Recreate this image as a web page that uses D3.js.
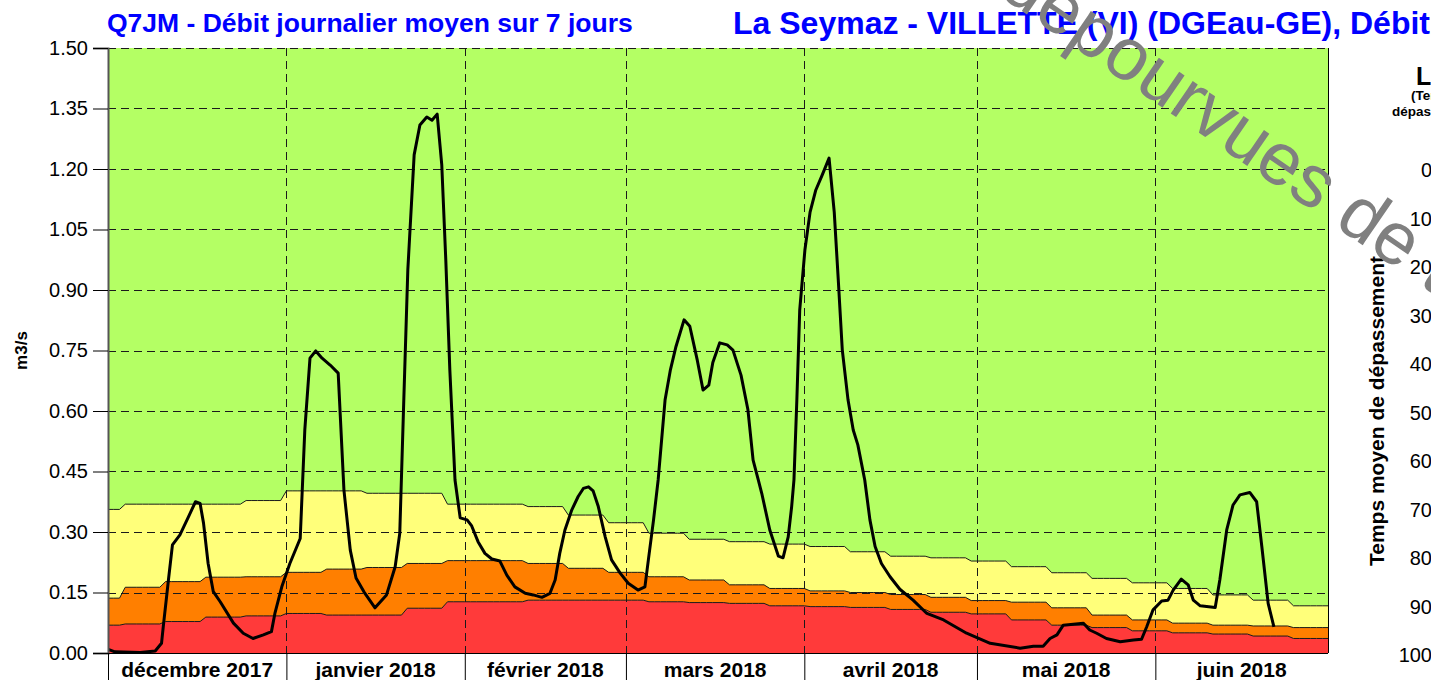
<!DOCTYPE html>
<html>
<head>
<meta charset="utf-8">
<script src="https://cdn.jsdelivr.net/npm/d3@7"></script>
<style>
  html, body { margin: 0; padding: 0; background: #fff; overflow: hidden; }
  svg { display: block; font-family: "Liberation Sans", Arial, sans-serif; }
</style>
</head>
<body>
<svg id="chart" width="1431" height="680"></svg>
<script>
// Q7JM series: day offset from 1 Dec 2017 and 7-day mean flow (m3/s)
const flowDay = [
  0.05, 1.2, 5.6, 8.2, 9.3, 9.6, 10.5, 11.2, 12.5, 14.0, 15.2, 16.0, 16.6, 17.4, 18.3, 19.5,
  21.8, 23.5, 25.2, 27.0, 28.4, 29.0, 30.2, 31.6, 33.4, 34.2, 35.1, 36.1, 37.2, 38.6, 40.0,
  41.0, 42.1, 43.1, 44.5, 46.4, 48.4, 49.9, 50.7, 51.4, 52.1, 53.2, 54.2, 55.4, 56.3, 57.2,
  58.0, 58.7, 59.4, 60.3, 61.2, 62.4, 63.2, 64.3, 65.5, 66.7, 68.1, 69.3, 70.7, 72.5, 73.9,
  75.4, 76.8, 77.7, 78.5, 79.4, 80.6, 81.7, 82.6, 83.5, 84.3, 85.2, 86.4, 87.5, 89.0, 90.4,
  92.1, 93.3, 93.9, 94.8, 95.6, 96.8, 97.7, 98.7, 100.1, 101.1, 102.4, 103.4, 104.4, 105.1,
  106.3, 107.6, 108.6, 110.0, 111.2, 112.1, 113.0, 113.6, 115.0, 116.5, 117.3, 118.2, 118.8,
  119.2, 119.7, 120.2, 121.1, 122.0, 123.0, 124.1, 125.3, 126.2, 126.9, 127.6, 128.6, 129.5,
  130.3, 131.5, 132.4, 133.3, 134.4, 135.9, 137.6, 139.9, 142.3, 145.2, 149.2, 153.3, 158.5,
  160.8, 162.5, 163.7, 164.9, 166.0, 169.5, 170.6, 171.8, 173.5, 175.9, 178.2, 179.6, 180.5,
  181.6, 183.1, 184.2, 185.1, 186.5, 187.7, 188.6, 189.8, 192.4, 193.2, 194.4, 195.5, 196.7,
  198.4, 199.6, 200.5, 201.6, 202.6
];
const flowValue = [
  0.009, 0.003, 0.001, 0.005, 0.024, 0.065, 0.181, 0.268, 0.293, 0.338, 0.375, 0.371, 0.322, 0.222, 0.152, 0.127,
  0.074, 0.049, 0.036, 0.045, 0.053, 0.098, 0.164, 0.222, 0.284, 0.553, 0.731, 0.749, 0.731, 0.714, 0.694,
  0.404, 0.255, 0.186, 0.151, 0.112, 0.144, 0.214, 0.297, 0.627, 0.950, 1.235, 1.309, 1.329, 1.321, 1.336,
  1.210, 0.974, 0.702, 0.429, 0.335, 0.330, 0.315, 0.276, 0.247, 0.233, 0.228, 0.193, 0.164, 0.148, 0.144,
  0.138, 0.148, 0.181, 0.247, 0.305, 0.355, 0.388, 0.408, 0.412, 0.402, 0.363, 0.288, 0.231, 0.198, 0.173,
  0.156, 0.164, 0.231, 0.330, 0.429, 0.627, 0.700, 0.760, 0.826, 0.810, 0.726, 0.652, 0.664, 0.720,
  0.769, 0.764, 0.751, 0.689, 0.603, 0.478, 0.429, 0.396, 0.305, 0.240, 0.236, 0.288, 0.363,
  0.429, 0.627, 0.850, 0.999, 1.093, 1.148, 1.185, 1.227, 1.093, 0.925, 0.751, 0.627, 0.553,
  0.516, 0.429, 0.330, 0.264, 0.222, 0.189, 0.158, 0.131, 0.098, 0.082, 0.049, 0.024, 0.012,
  0.017, 0.017, 0.036, 0.045, 0.069, 0.074, 0.057, 0.049, 0.036, 0.028, 0.032, 0.034, 0.065,
  0.107, 0.129, 0.131, 0.156, 0.183, 0.169, 0.131, 0.117, 0.113, 0.181, 0.305, 0.367, 0.392,
  0.398, 0.375, 0.264, 0.123, 0.065
];

// Weekly reference thresholds (m3/s); week k covers days 7k-4 .. 7k+2
const bandRedTop = [
  0.069, 0.072, 0.078, 0.089, 0.092, 0.098, 0.094, 0.094, 0.111, 0.127, 0.127,
  0.131, 0.131, 0.131, 0.127, 0.125, 0.123, 0.117, 0.115, 0.113, 0.108, 0.101,
  0.097, 0.082, 0.069, 0.063, 0.055, 0.050, 0.047, 0.042, 0.036
];
const bandOrangeTop = [
  0.136, 0.163, 0.177, 0.188, 0.189, 0.200, 0.208, 0.212, 0.222, 0.229, 0.229,
  0.222, 0.210, 0.200, 0.189, 0.181, 0.169, 0.160, 0.154, 0.150, 0.145, 0.138,
  0.130, 0.126, 0.112, 0.094, 0.082, 0.074, 0.069, 0.067, 0.063
];
const bandYellowTop = [
  0.356, 0.369, 0.369, 0.369, 0.378, 0.402, 0.402, 0.396, 0.396, 0.369, 0.369,
  0.363, 0.342, 0.323, 0.297, 0.282, 0.276, 0.270, 0.264, 0.251, 0.240, 0.236,
  0.228, 0.214, 0.199, 0.185, 0.174, 0.160, 0.144, 0.131, 0.117
];

const monthLabels = ["décembre 2017", "janvier 2018", "février 2018", "mars 2018", "avril 2018", "mai 2018", "juin 2018"];
const yTickValues = [0, 0.15, 0.30, 0.45, 0.60, 0.75, 0.90, 1.05, 1.20, 1.35, 1.50];
const legendTickValues = [0, 10, 20, 30, 40, 50, 60, 70, 80, 90, 100];

const titleLeft = "Q7JM - Débit journalier moyen sur 7 jours";
const titleRight = "La Seymaz - VILLETTE (VI) (DGEau-GE), Débit";
const yAxisTitle = "m3/s";
const legendAxisTitle = "Temps moyen de dépassement";
const watermarkText = "dépourvues de toute validation";

// ---- layout ----
const plot = { left: 108, right: 1328, top: 48, bottom: 653 };
const colors = {
  green: "#b4ff64",
  yellow: "#ffff7a",
  orange: "#ff7f00",
  red: "#ff3a3a",
  title: "#0000ff"
};

const DAY = 86400000;
const t0 = Date.UTC(2017, 11, 1);
const t1 = Date.UTC(2018, 6, 1);
const dayDate = d => new Date(t0 + d * DAY);

const x = d3.scaleUtc().domain([new Date(t0), new Date(t1)]).range([plot.left, plot.right]);
const y = d3.scaleLinear().domain([0, 1.5]).range([plot.bottom, plot.top]);

const svg = d3.select("#chart");

// ---- plot background and threshold bands ----
svg.append("rect")
  .attr("x", plot.left).attr("y", plot.top)
  .attr("width", plot.right - plot.left).attr("height", plot.bottom - plot.top)
  .attr("fill", colors.green);

const nDays = Math.round((t1 - t0) / DAY);
const bandRows = d3.range(0, nDays + 1).map(d => {
  const w = Math.min(bandRedTop.length - 1, Math.floor((d + 4) / 7));
  return { day: d, red: bandRedTop[w], orange: bandOrangeTop[w], yellow: bandYellowTop[w] };
});

const area = (lo, hi) => d3.area()
  .x(r => x(dayDate(r.day)))
  .y0(r => lo(r))
  .y1(r => y(hi(r)));

svg.append("path").datum(bandRows)
  .attr("fill", colors.yellow)
  .attr("d", area(r => y(r.orange), r => r.yellow));
svg.append("path").datum(bandRows)
  .attr("fill", colors.orange)
  .attr("d", area(r => y(r.red), r => r.orange));
svg.append("path").datum(bandRows)
  .attr("fill", colors.red)
  .attr("d", area(() => y(0), r => r.red));

const bandLine = key => d3.line().x(r => x(dayDate(r.day))).y(r => y(r[key]));
["yellow", "orange", "red"].forEach(k => {
  svg.append("path").datum(bandRows)
    .attr("fill", "none")
    .attr("stroke", "#1a1a1a")
    .attr("stroke-width", 1)
    .attr("d", bandLine(k));
});

// ---- dashed grid ----
const grid = svg.append("g").attr("stroke", "#1a1a1a").attr("stroke-width", 1).attr("stroke-dasharray", "8,5");
yTickValues.filter(v => v > 0).forEach(v => {
  grid.append("line")
    .attr("x1", plot.left).attr("x2", plot.right)
    .attr("y1", Math.round(y(v)) + 0.5).attr("y2", Math.round(y(v)) + 0.5);
});
const monthStarts = d3.utcMonth.range(new Date(t0), new Date(t1));
monthStarts.slice(1).forEach(m => {
  const px = Math.round(x(m)) + 0.5;
  grid.append("line").attr("x1", px).attr("x2", px).attr("y1", plot.top).attr("y2", plot.bottom);
});

// ---- Q7JM line ----
const flowRows = flowDay.map((d, i) => ({ day: d, v: flowValue[i] }));
svg.append("path").datum(flowRows)
  .attr("fill", "none")
  .attr("stroke", "#000")
  .attr("stroke-width", 3)
  .attr("stroke-linejoin", "round")
  .attr("d", d3.line().x(r => x(dayDate(r.day))).y(r => y(r.v)));

// ---- frame and axes ----
svg.append("line")
  .attr("x1", plot.right + 0.5).attr("x2", plot.right + 0.5)
  .attr("y1", plot.top).attr("y2", plot.bottom)
  .attr("stroke", "#000").attr("stroke-width", 1);

const yAxis = d3.axisLeft(y)
  .tickValues(yTickValues)
  .tickFormat(d3.format(".2f"))
  .tickSize(15)
  .tickPadding(5);
const gy = svg.append("g").attr("transform", `translate(${plot.left},0)`).call(yAxis);
gy.select(".domain").attr("stroke", "#555").attr("stroke-width", 2);
gy.selectAll(".tick line").attr("stroke", "#000");
gy.selectAll(".tick text")
  .attr("font-family", "'Liberation Sans', Arial, sans-serif")
  .attr("font-size", 20).attr("fill", "#000");

svg.append("line")
  .attr("x1", plot.left).attr("x2", plot.right)
  .attr("y1", plot.bottom + 0.5).attr("y2", plot.bottom + 0.5)
  .attr("stroke", "#000").attr("stroke-width", 1);

// month separators and labels below the plot
const xAxis = d3.axisBottom(x)
  .tickValues(monthStarts)
  .tickSize(30)
  .tickFormat("");
const gx = svg.append("g").attr("transform", `translate(0,${plot.bottom})`).call(xAxis);
gx.select(".domain").remove();
gx.selectAll(".tick line").attr("stroke", "#000");

const monthBounds = monthStarts.concat([new Date(t1)]);
svg.append("g").selectAll("text")
  .data(monthLabels)
  .join("text")
  .attr("x", (d, i) => (x(monthBounds[i]) + x(monthBounds[i + 1])) / 2)
  .attr("y", 677)
  .attr("text-anchor", "middle")
  .attr("font-size", 21)
  .attr("font-weight", "bold")
  .attr("fill", "#000")
  .text(d => d);

svg.append("text")
  .attr("transform", `translate(27,${(plot.top + plot.bottom) / 2}) rotate(-90)`)
  .attr("text-anchor", "middle")
  .attr("font-size", 17)
  .attr("font-weight", "bold")
  .text(yAxisTitle);

// ---- titles ----
svg.append("text")
  .attr("x", 107).attr("y", 32)
  .attr("font-size", 26.5).attr("font-weight", "bold")
  .attr("fill", colors.title)
  .text(titleLeft);
svg.append("text")
  .attr("x", 733).attr("y", 34)
  .attr("font-size", 32).attr("font-weight", "bold")
  .attr("fill", colors.title)
  .text(titleRight);

// ---- legend column on the right ----
svg.append("text").attr("x", 1416).attr("y", 85)
  .attr("font-size", 25).attr("font-weight", "bold").text("Légende");
svg.append("text").attr("x", 1411).attr("y", 100)
  .attr("font-size", 13.5).attr("font-weight", "bold").text("(Temps moyen de");
svg.append("text").attr("x", 1392).attr("y", 116)
  .attr("font-size", 13.5).attr("font-weight", "bold").text("dépassement en %)");

const yLegend = d3.scaleLinear().domain([0, 100]).range([170, 655]);
svg.append("g").selectAll("text")
  .data(legendTickValues)
  .join("text")
  .attr("x", 1432)
  .attr("y", d => yLegend(d))
  .attr("dy", "0.36em")
  .attr("text-anchor", "end")
  .attr("font-size", 20)
  .text(d => d);

svg.append("text")
  .attr("transform", "translate(1384,411) rotate(-90)")
  .attr("text-anchor", "middle")
  .attr("font-size", 21)
  .attr("font-weight", "bold")
  .text(legendAxisTitle);

// ---- diagonal watermark ----
const wm = svg.append("g").attr("transform", "translate(997,-6) rotate(34.5)");
wm.append("text")
  .attr("x", -20).attr("y", 0)
  .attr("text-anchor", "end")
  .attr("font-size", 74).attr("fill", "#808080")
  .text("Données");
wm.append("text")
  .attr("x", 0).attr("y", 0)
  .attr("font-size", 74).attr("fill", "#808080")
  .text(watermarkText);
</script>
</body>
</html>
